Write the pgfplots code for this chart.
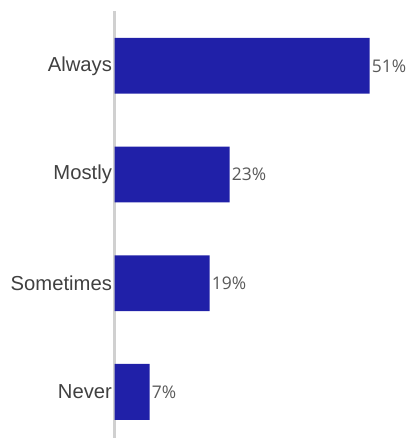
\documentclass[border=0pt]{standalone}
\usepackage{pgfplots}
\pgfplotsset{compat=1.18}
\usepackage{fontspec}
\setmainfont{Liberation Sans}
\newfontfamily\valfont{Open Sans}
\definecolor{barblue}{HTML}{2020A8}
\definecolor{labgray}{HTML}{404040}
\definecolor{valgray}{HTML}{595959}
\definecolor{axgray}{HTML}{D0D0D0}
\begin{document}
\begin{tikzpicture}[x=1pt,y=1pt]
\path (0,0) rectangle (409,439);
\begin{axis}[
  at={(115pt,0pt)}, anchor=south west,
  scale only axis, width=291pt, height=428pt,
  xmin=0, xmax=58, ymin=-0.42, ymax=3.505,
  xbar, bar width=56pt,
  axis x line=none,
  axis y line*=left,
  y axis line style={axgray, line width=3pt, -},
  ytick={0,1,2,3},
  yticklabels={Never,Sometimes,Mostly,Always},
  major tick length=0pt,
  yticklabel style={font=\fontsize{20.3}{23}\selectfont, text=labgray, inner sep=2.5pt},
  /pgf/number format/assume math mode=true,
  nodes near coords={\pgfmathprintnumber{\pgfplotspointmeta}\%},
  nodes near coords style={font=\valfont\fontsize{17.5}{20}\selectfont, text=valgray, inner sep=2pt},
  point meta=x,
  clip=false,
]
\addplot[fill=barblue, draw=none] coordinates {(7,0) (19,1) (23,2) (51,3)};
\end{axis}
\end{tikzpicture}
\end{document}
